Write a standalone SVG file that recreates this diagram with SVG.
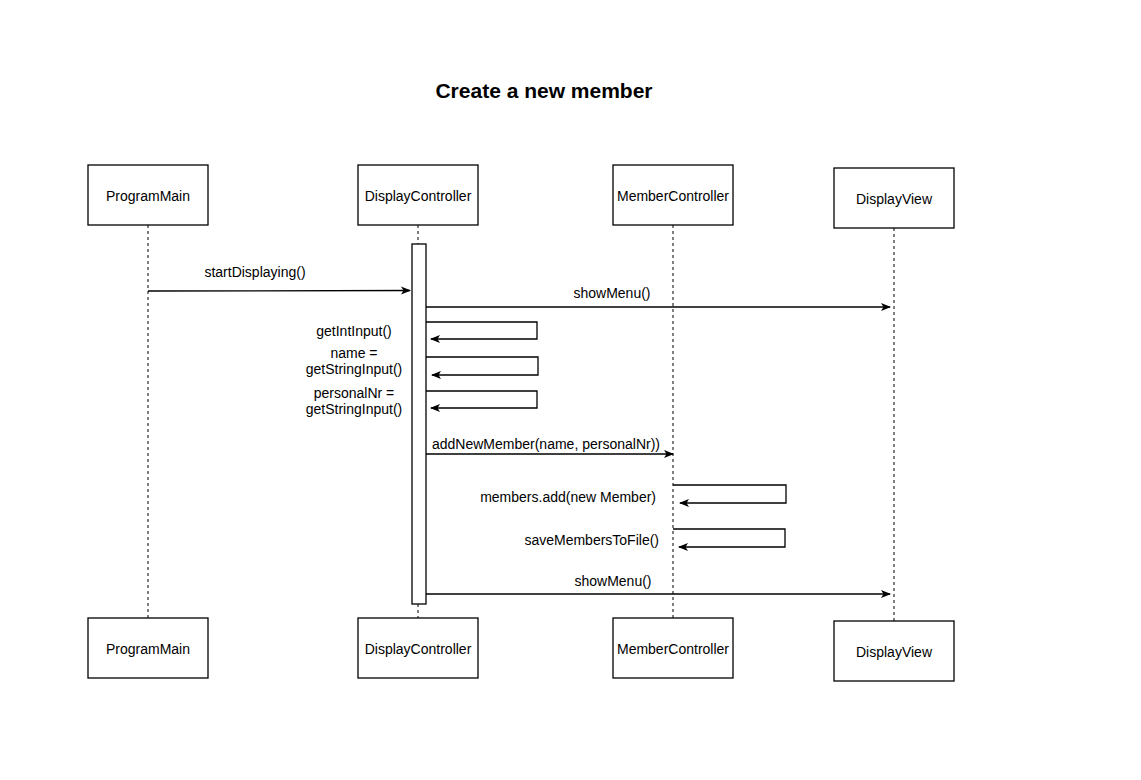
<svg xmlns="http://www.w3.org/2000/svg" width="1141" height="780" viewBox="0 0 1141 780">
<defs>
<marker id="arr" viewBox="0 0 10 10" refX="9" refY="5" markerWidth="10" markerHeight="10" markerUnits="userSpaceOnUse" orient="auto">
<path d="M0,1 L10,5 L0,9 L2.5,5 Z" fill="#000"/>
</marker>
</defs>
<style>
.box{fill:#fff;stroke:#000;stroke-width:1.3}
.life{stroke:#000;stroke-width:1;stroke-dasharray:3,3;fill:none}
.msg{stroke:#000;stroke-width:1.3;fill:none}
.t{font-family:"Liberation Sans",Arial,sans-serif;font-size:14px;fill:#000}
.c{text-anchor:middle}
.r{text-anchor:end}
.title{font-family:"Liberation Sans",Arial,sans-serif;font-size:21px;font-weight:bold;text-anchor:middle;fill:#000}
</style>
<rect width="1141" height="780" fill="#fff"/>
<text class="title" x="544" y="98">Create a new member</text>
<g id="lifelines">
<line class="life" x1="148" y1="225" x2="148" y2="618"/>
<line class="life" x1="418" y1="225" x2="418" y2="244"/>
<line class="life" x1="418" y1="604" x2="418" y2="618"/>
<line class="life" x1="673" y1="225" x2="673" y2="618"/>
<line class="life" x1="894" y1="228" x2="894" y2="621"/>
</g>
<g id="ProgramMain"><rect class="box" x="88" y="165" width="120" height="60"/><text class="t c" x="148" y="201">ProgramMain</text></g>
<g id="DisplayController"><rect class="box" x="358" y="165" width="120" height="60"/><text class="t c" x="418" y="201">DisplayController</text></g>
<g id="MemberController"><rect class="box" x="613" y="165" width="120" height="60"/><text class="t c" x="673" y="201">MemberController</text></g>
<g id="DisplayView"><rect class="box" x="834" y="168" width="120" height="60"/><text class="t c" x="894" y="204">DisplayView</text></g>
<g id="ProgramMainBottom"><rect class="box" x="88" y="618" width="120" height="60"/><text class="t c" x="148" y="654">ProgramMain</text></g>
<g id="DisplayControllerBottom"><rect class="box" x="358" y="618" width="120" height="60"/><text class="t c" x="418" y="654">DisplayController</text></g>
<g id="MemberControllerBottom"><rect class="box" x="613" y="618" width="120" height="60"/><text class="t c" x="673" y="654">MemberController</text></g>
<g id="DisplayViewBottom"><rect class="box" x="834" y="621" width="120" height="60"/><text class="t c" x="894" y="657">DisplayView</text></g>
<g id="activation"><rect class="box" x="412" y="244" width="14" height="360"/></g>
<g id="connectors">
<line class="msg" x1="148" y1="291" x2="410" y2="290.5" marker-end="url(#arr)"/>
<line class="msg" x1="426" y1="307" x2="890" y2="307" marker-end="url(#arr)"/>
<polyline class="msg" points="426,322 537,322 537,339 431,339" marker-end="url(#arr)"/>
<polyline class="msg" points="426,357 538,357 538,375 432,375" marker-end="url(#arr)"/>
<polyline class="msg" points="426,391 537,391 537,408 431,408" marker-end="url(#arr)"/>
<line class="msg" x1="426" y1="454" x2="673" y2="454" marker-end="url(#arr)"/>
<polyline class="msg" points="673,485 786,485 786,503 680,503" marker-end="url(#arr)"/>
<polyline class="msg" points="673,529 785,529 785,547 679,547" marker-end="url(#arr)"/>
<line class="msg" x1="426" y1="594" x2="890" y2="594" marker-end="url(#arr)"/>
</g>
<g id="labels">
<text class="t c" x="255" y="277">startDisplaying()</text>
<text class="t c" x="612" y="298">showMenu()</text>
<text class="t c" x="354" y="336">getIntInput()</text>
<text class="t c" x="354" y="358">name =</text>
<text class="t c" x="354" y="374">getStringInput()</text>
<text class="t c" x="354" y="398">personalNr =</text>
<text class="t c" x="354" y="414">getStringInput()</text>
<text class="t" x="432" y="449">addNewMember(name, personalNr))</text>
<text class="t r" x="656" y="502">members.add(new Member)</text>
<text class="t r" x="659" y="545">saveMembersToFile()</text>
<text class="t c" x="613" y="586">showMenu()</text>
</g>
</svg>
